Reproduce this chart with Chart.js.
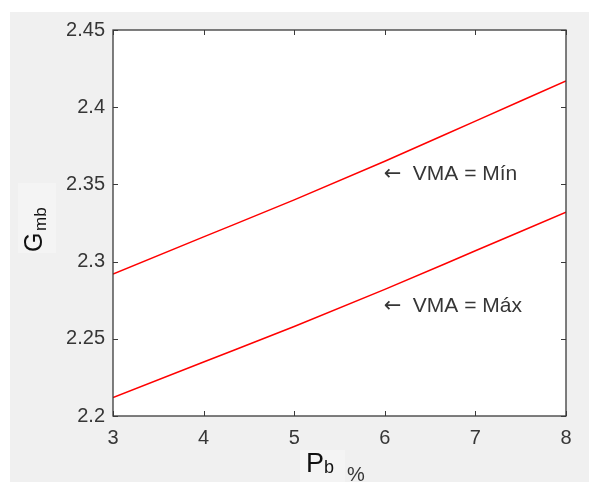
<!DOCTYPE html>
<html>
<head>
<meta charset="utf-8">
<script src="https://cdn.jsdelivr.net/npm/chart.js@4/dist/chart.umd.min.js"></script>
<style>
  html, body { margin: 0; padding: 0; background: #fff; }
  #wrap { width: 589px; height: 482px; }
</style>
</head>
<body>
<div id="wrap"><canvas id="chart" width="589" height="482"></canvas></div>
<script>
const pb = [3, 4, 5, 6, 7, 8];
const gmbMin = [2.292, 2.316, 2.340, 2.365, 2.391, 2.417];
const gmbMax = [2.212, 2.235, 2.258, 2.282, 2.307, 2.332];
const notes = [
  { text: 'VMA = M\u00edn', x: 6.0, y: 2.3528 },
  { text: 'VMA = M\u00e1x', x: 6.0, y: 2.2674 }
];

const FONT = '"Liberation Sans", Arial, sans-serif';
const INK = '#363636';

const decor = {
  id: 'decor',
  beforeDraw(chart) {
    const c = chart.ctx;
    const a = chart.chartArea;
    c.save();
    c.fillStyle = '#fff';
    c.fillRect(0, 0, chart.width, chart.height);
    c.fillStyle = '#f0f0f0';
    c.fillRect(10, 12, chart.width - 10, chart.height - 12);
    // faint label boxes
    c.fillStyle = '#f4f4f4';
    c.fillRect(18, 183, 38, 70);
    c.fillRect(300, 450, 45, 32);
    c.fillStyle = '#fff';
    c.fillRect(a.left, a.top, a.right - a.left, a.bottom - a.top);
    c.restore();
  },
  afterDraw(chart) {
    const c = chart.ctx;
    const a = chart.chartArea;
    const xs = chart.scales.x, ys = chart.scales.y;
    c.save();
    c.strokeStyle = '#3a3a3a';
    c.lineWidth = 1.3;
    c.strokeRect(a.left, a.top, a.right - a.left, a.bottom - a.top);
    c.lineWidth = 1;
    c.beginPath();
    xs.ticks.forEach(t => {
      const px = Math.round(xs.getPixelForValue(t.value)) + 0.5;
      c.moveTo(px, a.bottom); c.lineTo(px, a.bottom - 5);
      c.moveTo(px, a.top); c.lineTo(px, a.top + 5);
    });
    ys.ticks.forEach(t => {
      const py = Math.round(ys.getPixelForValue(t.value)) + 0.5;
      c.moveTo(a.left, py); c.lineTo(a.left + 5, py);
      c.moveTo(a.right, py); c.lineTo(a.right - 5, py);
    });
    c.stroke();

    // annotations
    c.fillStyle = INK;
    c.textBaseline = 'alphabetic';
    c.textAlign = 'left';
    notes.forEach(n => {
      const px = xs.getPixelForValue(n.x);
      const py = ys.getPixelForValue(n.y);
      c.font = '21px "DejaVu Sans", sans-serif';
      c.fillText('\u2190', px - 1, py);
      c.font = '21px ' + FONT;
      c.fillText(n.text, px + 28, py);
    });

    // x title: P_b %
    c.fillStyle = '#111';
    c.font = '27px ' + FONT;
    c.fillText('P', 306, 472);
    c.font = '18px ' + FONT;
    c.fillText('b', 324, 473);
    c.fillStyle = INK;
    c.font = '20px ' + FONT;
    c.fillText('%', 347, 481);

    // y title: G_mb
    c.translate(42, 252);
    c.rotate(-Math.PI / 2);
    c.fillStyle = '#111';
    c.font = '25px ' + FONT;
    c.fillText('G', 0, 0);
    c.font = '17px ' + FONT;
    c.fillText('mb', 21, 4);
    c.restore();
  }
};

new Chart(document.getElementById('chart'), {
  type: 'line',
  data: {
    datasets: [
      {
        label: 'VMA = Mín',
        data: pb.map((x, i) => ({ x, y: gmbMin[i] })),
        borderColor: '#ff0000',
        borderWidth: 1.5,
        pointRadius: 0,
        cubicInterpolationMode: 'monotone'
      },
      {
        label: 'VMA = Máx',
        data: pb.map((x, i) => ({ x, y: gmbMax[i] })),
        borderColor: '#ff0000',
        borderWidth: 1.5,
        pointRadius: 0,
        cubicInterpolationMode: 'monotone'
      }
    ]
  },
  options: {
    responsive: false,
    animation: false,
    layout: { padding: { left: 0, top: 30, right: 23, bottom: 0 } },
    plugins: {
      legend: { display: false },
      tooltip: { enabled: false }
    },
    scales: {
      x: {
        type: 'linear',
        min: 3, max: 8,
        grid: { display: false, drawTicks: false },
        border: { display: false },
        ticks: {
          stepSize: 1,
          padding: 10,
          color: INK,
          font: { family: FONT, size: 20 }
        },
        afterFit: (s) => { s.height = 66; }
      },
      y: {
        min: 2.2, max: 2.45,
        grid: { display: false, drawTicks: false },
        border: { display: false },
        ticks: {
          stepSize: 0.05,
          padding: 8,
          color: INK,
          font: { family: FONT, size: 20 },
          callback: (v) => String(Number(v.toFixed(2)))
        },
        afterFit: (s) => { s.width = 113; }
      }
    }
  },
  plugins: [decor]
});
</script>
</body>
</html>
